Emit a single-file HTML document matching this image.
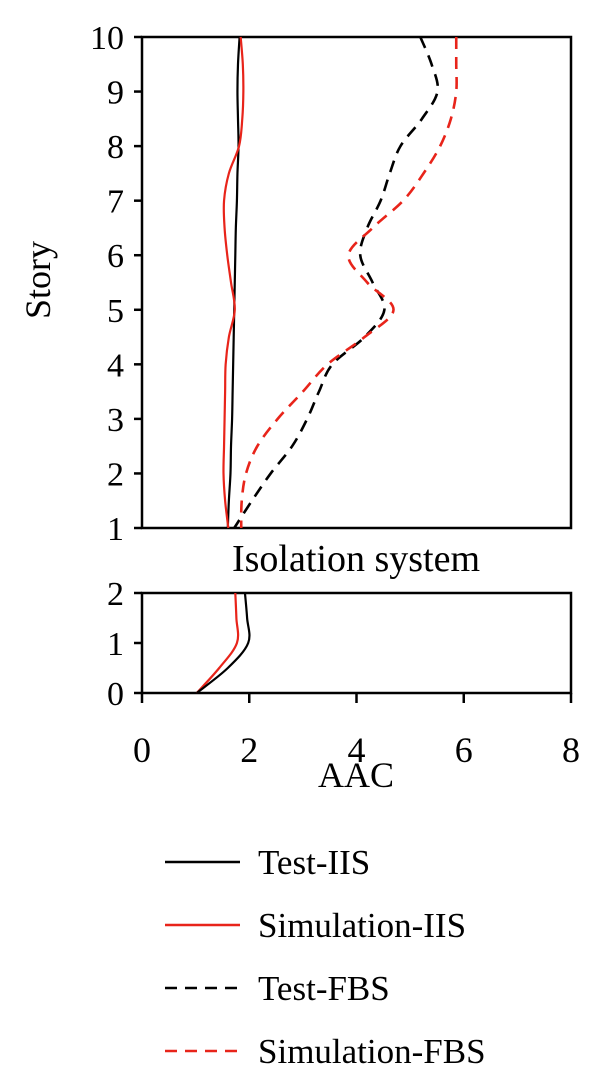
<!DOCTYPE html>
<html><head><meta charset="utf-8"><style>
html,body{margin:0;padding:0;background:#fff;}
svg text{font-family:"Liberation Serif",serif;fill:#000;}
</style></head><body>
<svg width="600" height="1067" viewBox="0 0 600 1067">
<g id="upper"></g>
<g id="lower"></g>
<g id="legend"></g>
</svg>
<script>
const storyLevels=[10,9.5,9,8.5,8,7.5,7,6.5,6,5.5,5,4.5,4,3.5,3,2.5,2,1.5,1];
const testIIS=[1.82,1.79,1.78,1.79,1.80,1.78,1.77,1.75,1.74,1.73,1.72,1.71,1.70,1.69,1.68,1.66,1.65,1.62,1.60];
const simIIS=[1.84,1.88,1.89,1.87,1.81,1.62,1.53,1.54,1.59,1.66,1.73,1.62,1.56,1.55,1.54,1.53,1.52,1.55,1.61];
const testFBS=[5.19,5.40,5.51,5.22,4.82,4.62,4.45,4.20,4.07,4.30,4.52,4.15,3.55,3.30,3.08,2.80,2.40,2.05,1.72];
const simFBS=[5.86,5.86,5.86,5.76,5.56,5.25,4.87,4.30,3.85,4.20,4.69,4.15,3.46,3.00,2.53,2.15,1.94,1.86,1.85];
const isoLevels=[2,1.5,1,0.5,0];
const isoTest=[1.92,1.96,1.98,1.60,1.02];
const isoSim=[1.74,1.76,1.77,1.44,1.02];
const xTicks=[0,2,4,6,8];
const storyTicks=[1,2,3,4,5,6,7,8,9,10];
const isoTicks=[0,1,2];
const seriesNames=["Test-IIS","Simulation-IIS","Test-FBS","Simulation-FBS"];

const NS="http://www.w3.org/2000/svg";
const X0=142,X1=571;
const sx=v=>X0+(X1-X0)*v/8;
const syU=v=>528-(528-37)*(v-1)/9;
const syL=v=>693-(693-593)*v/2;
function mk(tag,attrs,parent){const e=document.createElementNS(NS,tag);for(const k in attrs)e.setAttribute(k,attrs[k]);parent.appendChild(e);return e;}
function smooth(pts){let d="M"+pts[0][0]+","+pts[0][1];for(let i=0;i<pts.length-1;i++){const p0=pts[i-1]||pts[i],p1=pts[i],p2=pts[i+1],p3=pts[i+2]||p2;const c1=[p1[0]+(p2[0]-p0[0])/6,p1[1]+(p2[1]-p0[1])/6],c2=[p2[0]-(p3[0]-p1[0])/6,p2[1]-(p3[1]-p1[1])/6];d+=" C"+c1[0]+","+c1[1]+" "+c2[0]+","+c2[1]+" "+p2[0]+","+p2[1];}return d;}
const up=document.getElementById('upper'),lo=document.getElementById('lower'),lg=document.getElementById('legend');

function frame(g,top,bot){
  const r=mk('rect',{x:X0,y:top,width:X1-X0,height:bot-top,fill:'none',stroke:'#000','stroke-width':2.5},g);
  
  
}
frame(up,37,528);frame(lo,593,693);
storyTicks.forEach(t=>{const y=syU(t);
  const l=mk('line',{x1:X0-8,x2:X0,y1:y,y2:y,stroke:'#000','stroke-width':2.5},up);
  
  
  const tx=mk('text',{x:X0-18,y:y+12,'text-anchor':'end','font-size':34},up);tx.textContent=t;
  
  
});
isoTicks.forEach(t=>{const y=syL(t);
  const l=mk('line',{x1:X0-8,x2:X0,y1:y,y2:y,stroke:'#000','stroke-width':2.5},lo);
  
  
  const tx=mk('text',{x:X0-18,y:y+12,'text-anchor':'end','font-size':34},lo);tx.textContent=t;
  
  
});
xTicks.forEach(t=>{const x=sx(t);
  const l=mk('line',{x1:x,x2:x,y1:693,y2:703,stroke:'#000','stroke-width':2.5},lo);
  
  
  const tx=mk('text',{x:x,y:762,'text-anchor':'middle','font-size':36},lo);tx.textContent=t;
  
  
});
const yl=mk('text',{x:50,y:280,'text-anchor':'middle','font-size':36,transform:'rotate(-90 50 280)'},up);yl.textContent='Story';


const tt=mk('text',{x:356,y:571,'text-anchor':'middle','font-size':38},lo);tt.textContent='Isolation system';


const xl=mk('text',{x:356,y:787,'text-anchor':'middle','font-size':36},lo);xl.textContent='AAC';



const styles=[{c:'#000',d:''},{c:'#e8241a',d:''},{c:'#000',d:'12 8'},{c:'#e8241a',d:'12 8'}];
function series(g,vals,levels,sy,st,name){
  const p=mk('path',{d:smooth(vals.map((v,i)=>[sx(v),sy(levels[i])])),fill:'none',stroke:st.c,'stroke-width':st.d?2.6:2.2,'stroke-dasharray':st.d||'none'},g);
  
  
}
series(up,testIIS,storyLevels,syU,styles[0],'line-test-iis');
series(up,simIIS,storyLevels,syU,styles[1],'line-simulation-iis');
series(up,testFBS,storyLevels,syU,styles[2],'line-test-fbs');
series(up,simFBS,storyLevels,syU,styles[3],'line-simulation-fbs');
series(lo,isoSim,isoLevels,syL,styles[1],'iso-line-simulation-iis');
series(lo,isoTest,isoLevels,syL,styles[0],'iso-line-test-iis');

seriesNames.forEach((n,i)=>{const y=862+i*63;
  const l=mk('line',{x1:165,x2:240,y1:y,y2:y,stroke:styles[i].c,'stroke-width':2.4,'stroke-dasharray':styles[i].d||'none'},lg);
  
  
  const t=mk('text',{x:258,y:y+12,'font-size':35},lg);t.textContent=n;
  
  
});
</script>
</body></html>
